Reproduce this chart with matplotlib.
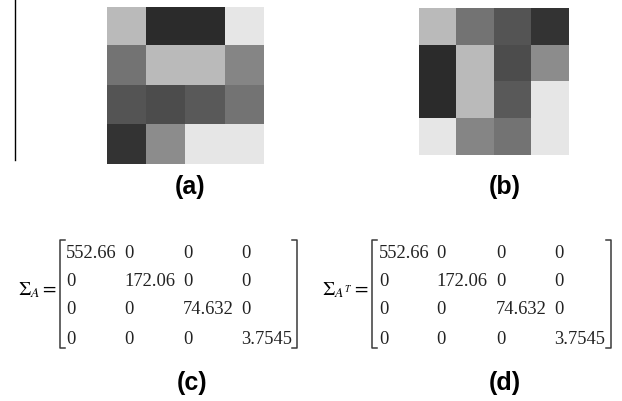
import numpy as np
import matplotlib
matplotlib.use('Agg')
import matplotlib.pyplot as plt
from matplotlib.lines import Line2D

# gray level of each cell of A (0 = black, 1 = white)
A_gray = [[0.73, 0.17, 0.17, 0.90],
          [0.45, 0.73, 0.73, 0.52],
          [0.33, 0.30, 0.35, 0.45],
          [0.20, 0.55, 0.90, 0.90]]
# singular values shown in (c) and (d)
sigma_vals = ['552.66', '172.06', '74.632', '3.7545']
panel_labels = ['(a)', '(b)', '(c)', '(d)']
sigma_names = [r'$\Sigma_{A}=$', r'$\Sigma_{A^T}=$']

W, H = 622, 401
plt.rcParams['mathtext.fontset'] = 'stix'
fig = plt.figure(figsize=(W / 100, H / 100), dpi=100)

def px(x, y):
    # pixel position (from top-left) -> figure fraction
    return x / W, 1 - y / H

def add_img(data, left, top, right, bottom):
    x0, y1 = px(left, top)
    x1, y0 = px(right, bottom)
    ax = fig.add_axes([x0, y0, x1 - x0, y1 - y0])
    ax.imshow(data, cmap='gray', vmin=0, vmax=1, aspect='auto', interpolation='nearest')
    ax.axis('off')
    return ax

A = np.array(A_gray)
add_img(A, 107, 7, 264, 164)
add_img(A.T, 419, 8, 569, 155)

# thin vertical rule at the left edge
fig.add_artist(Line2D([15 / W, 15 / W], [1, 1 - 160 / H], color='black', lw=1.0))

# panel labels
label_pos = [(190, 187), (505, 187), (192, 383), (505, 383)]
for lab, (x, y) in zip(panel_labels, label_pos):
    fx, fy = px(x, y)
    fig.text(fx, fy, lab, ha='center', va='center', fontsize=18, fontweight='bold',
             family='Liberation Sans')

def bracket(x, top, bottom, d):
    xs = [x + d, x, x, x + d]
    ys = [top, top, bottom, bottom]
    fig.add_artist(Line2D([v / W for v in xs], [1 - v / H for v in ys],
                          color='#3a3a3a', lw=1.1))

def matrix(name, name_x, lb, rb, cols):
    fx, fy = px(name_x, 290)
    fig.text(fx, fy, name, ha='right', va='center', fontsize=14)
    bracket(lb, 240, 348, 5)
    bracket(rb, 240, 348, -5)
    rows_y = [254, 282, 310, 339]
    for i, ry in enumerate(rows_y):
        for j, cx in enumerate(cols):
            s = sigma_vals[i] if i == j else '0'
            tx, ty = px(cx, ry)
            fig.text(tx, ty, s, ha='left', va='center', fontsize=13.3,
                     family='Liberation Serif', color='#222222')

matrix(sigma_names[0], 57, 60, 297, [66, 124, 183, 241])
matrix(sigma_names[1], 368, 372, 611, [379, 436, 496, 554])

fig.savefig('out.png', dpi=100)
